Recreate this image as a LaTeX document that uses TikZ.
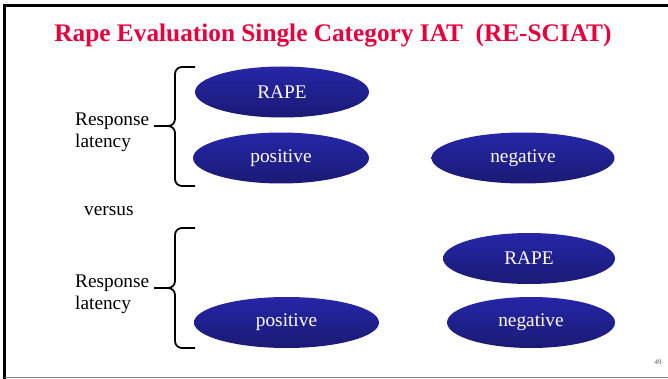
\documentclass[tikz,border=0pt]{standalone}
\usepackage{fontspec}
\setmainfont{Liberation Serif}
\usetikzlibrary{shapes.geometric}
\definecolor{titleRed}{RGB}{232,0,60}
\definecolor{ovalTop}{RGB}{38,38,168}
\definecolor{ovalBottom}{RGB}{26,26,116}
\newcommand{\bodyFont}[0]{\fontsize{19.3}{21.5}\selectfont}
\newcommand{\latencyBrace}[3]{%
  \draw[brace line] (195,#1) -- (175,#1) -- (175,#2) -- (154,#2);
  \draw[brace line] (195,#3) -- (175,#3) -- (175,#2) -- (154,#2);
}

\begin{document}
\begin{tikzpicture}[x=1pt, y=-1pt]
  \tikzset{category/.style={ellipse,top color=ovalTop,bottom color=ovalBottom,draw=none,
      text=white,font=\bodyFont,inner sep=0pt,minimum height=51pt},
    brace line/.style={line width=1.8pt,rounded corners=7pt},
    side text/.style={font=\bodyFont,align=left,inner sep=0pt}}
  \useasboundingbox (0,0) rectangle (668,379);
  \draw[line width=2.5pt] (4.5,379) -- (4.5,5.5) -- (668,5.5);
  \draw[gray,line width=1.5pt] (4.5,377.5) -- (668,377.5);
  \node[anchor=base,inner sep=0pt,text=titleRed,font=\fontsize{25.3}{29}\selectfont\bfseries] (title)
    at (333,42) {Rape Evaluation Single Category IAT\ \ (RE-SCIAT)};
  \latencyBrace{67}{126}{186}
  \latencyBrace{228}{288}{348}
  \node[side text,anchor=west] (latencyA) at (75,132.5) {Response\\latency};
  \node[side text,anchor=base west] (versus) at (84,215) {versus};
  \node[side text,anchor=west] (latencyB) at (75,294.5) {Response\\latency};
  \node[category,minimum width=174pt] (rapeA) at (282,92) {RAPE};
  \node[category,minimum width=176pt] (positiveA) at (281,158) {positive};
  \node[category,minimum width=183pt] (negativeA) at (523,158) {negative};
  \node[category,minimum width=172pt] (rapeB) at (529,258.5) {RAPE};
  \node[category,minimum width=185pt] (positiveB) at (286.5,322.5) {positive};
  \node[category,minimum width=168pt] (negativeB) at (531,322.5) {negative};
  \node[inner sep=0pt,font=\fontsize{7}{8}\selectfont,text=black!70] (slideNo) at (658,362) {49};
\end{tikzpicture}
\end{document}
